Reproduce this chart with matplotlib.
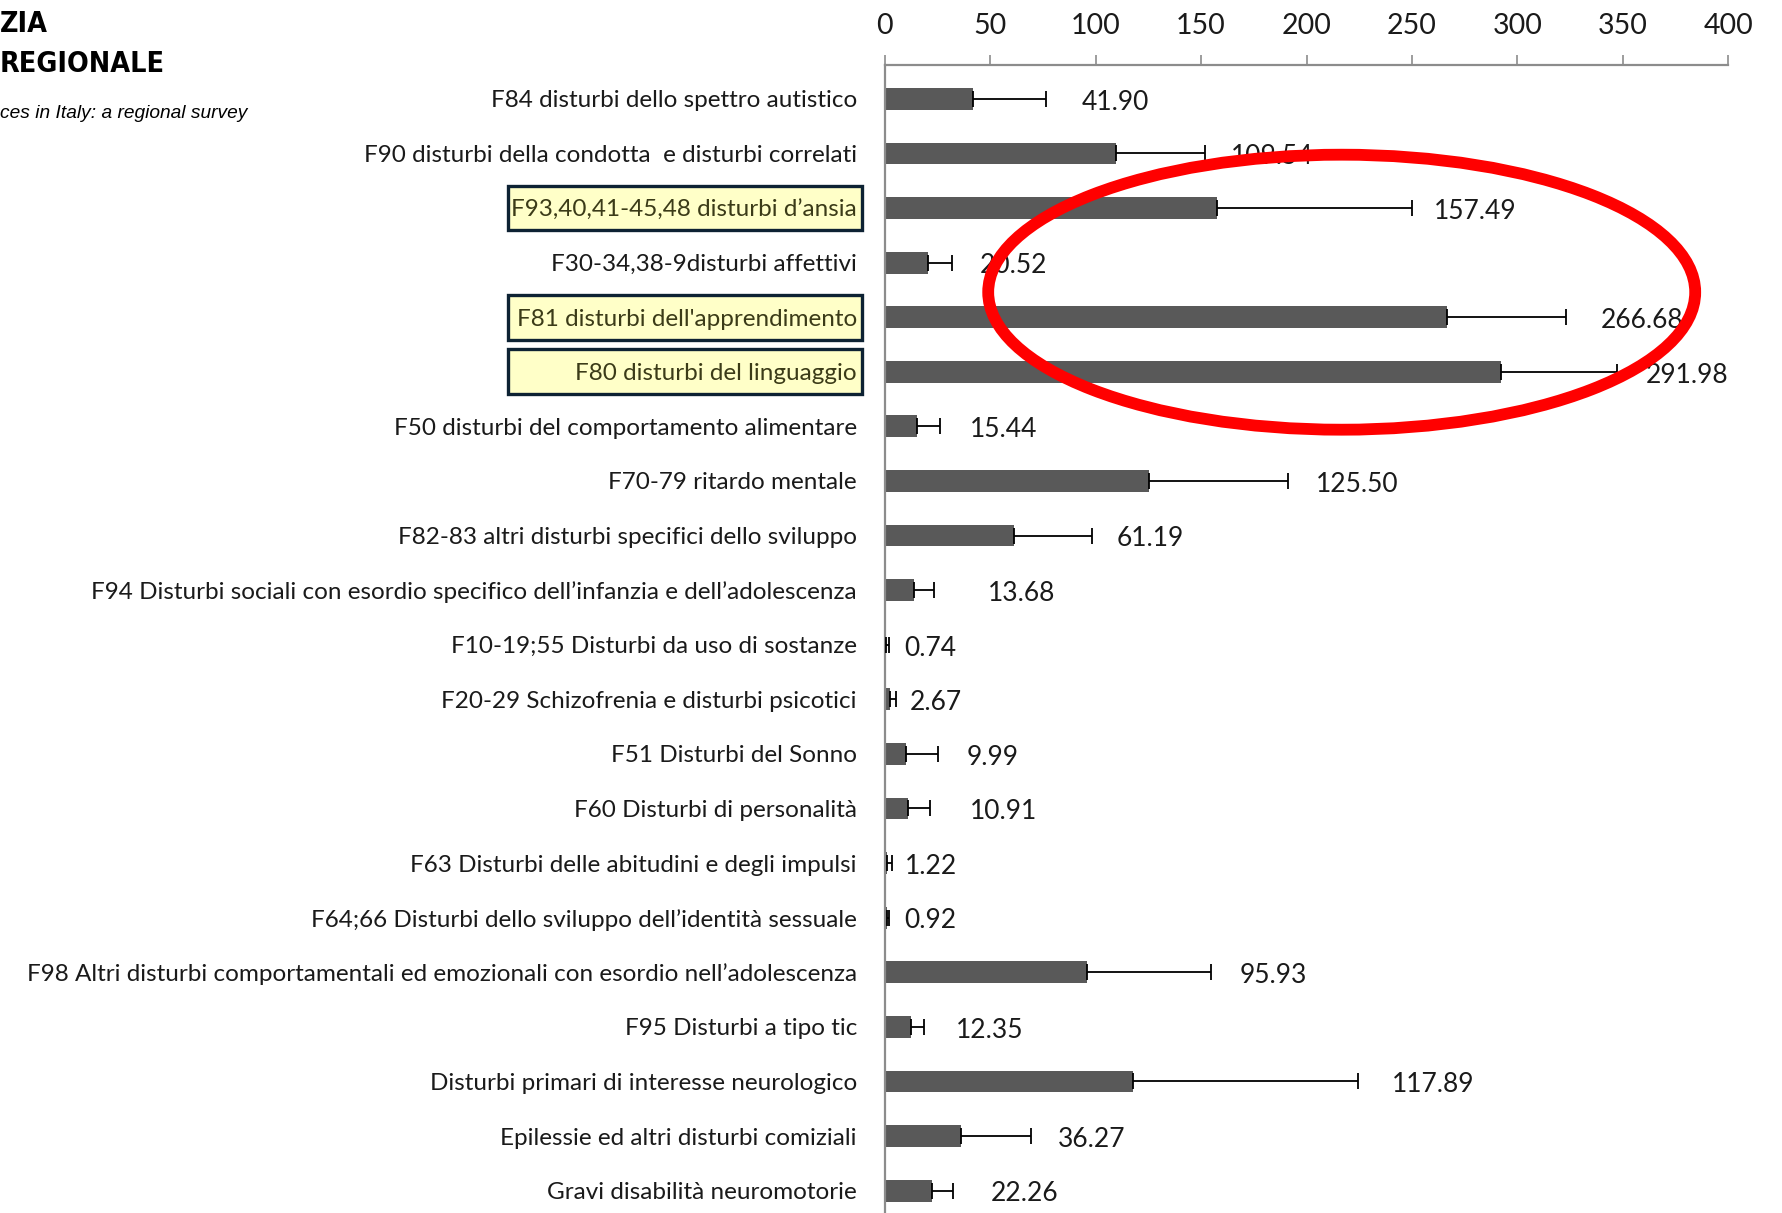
import matplotlib
matplotlib.use("Agg")
import matplotlib.pyplot as plt
import matplotlib.transforms as mtransforms
from matplotlib.patches import Rectangle, Ellipse

categories = [
    "F84 disturbi dello spettro autistico",
    "F90 disturbi della condotta  e disturbi correlati",
    "F93,40,41-45,48 disturbi d\u2019ansia",
    "F30-34,38-9disturbi affettivi",
    "F81 disturbi dell'apprendimento",
    "F80 disturbi del linguaggio",
    "F50 disturbi del comportamento alimentare",
    "F70-79 ritardo mentale",
    "F82-83 altri disturbi specifici dello sviluppo",
    "F94 Disturbi sociali con esordio specifico dell\u2019infanzia e dell\u2019adolescenza",
    "F10-19;55 Disturbi da uso di sostanze",
    "F20-29 Schizofrenia e disturbi psicotici",
    "F51 Disturbi del Sonno",
    "F60 Disturbi di personalit\u00e0",
    "F63 Disturbi delle abitudini e degli impulsi",
    "F64;66 Disturbi dello sviluppo dell\u2019identit\u00e0 sessuale",
    "F98 Altri disturbi comportamentali ed emozionali con esordio nell\u2019adolescenza",
    "F95 Disturbi a tipo tic",
    "Disturbi primari di interesse neurologico",
    "Epilessie ed altri disturbi comiziali",
    "Gravi disabilit\u00e0 neuromotorie",
]
values = [41.90, 109.54, 157.49, 20.52, 266.68, 291.98, 15.44, 125.50, 61.19, 13.68,
          0.74, 2.67, 9.99, 10.91, 1.22, 0.92, 95.93, 12.35, 117.89, 36.27, 22.26]
errors = [34.8, 42.4, 92.3, 11.6, 56.4, 55.1, 11.0, 65.8, 37.0, 9.7,
          1.4, 2.7, 15.5, 10.4, 2.4, 1.2, 58.8, 6.4, 106.4, 33.3, 10.1]
highlighted = ["F93,40,41-45,48 disturbi d\u2019ansia",
               "F81 disturbi dell'apprendimento",
               "F80 disturbi del linguaggio"]
x_ticks = [0, 50, 100, 150, 200, 250, 300, 350, 400]
label_gap = [16.6, 12, 10.6, 13, 16.5, 13.5, 14, 13, 12, 25.7,
             7, 6.4, 13.3, 19.2, 6, 7, 13.7, 15, 16, 12.4, 17.7]

FONT = "Lato"
plt.rcParams["font.family"] = [FONT, "DejaVu Sans"]

W, H = 1783, 1213
fig = plt.figure(figsize=(W / 100, H / 100), dpi=100)
ax = fig.add_axes([884.7 / W, 0.0, (1728.4 - 884.7) / W, 1 - 65.0 / H])
ax.set_facecolor("none")

n = len(categories)
ypos = list(range(n))
ax.barh(ypos, values, height=0.40, color="#595959", zorder=2)
ax.errorbar(values, ypos, xerr=[[0] * n, errors], fmt="none", ecolor="black",
            elinewidth=1.3, capsize=6, capthick=1.3, zorder=3)

for i, (v, e) in enumerate(zip(values, errors)):
    ax.text(v + e + label_gap[i], i + 0.06, f"{v:.2f}", va="center", ha="left",
            fontsize=19, color="#1a1a1a", zorder=4)

ax.set_xlim(0, 400)
ax.set_ylim(n - 1 + 0.41, -0.62)
ax.xaxis.tick_top()
ax.set_xticks(x_ticks)
ax.set_xticklabels([str(t) for t in x_ticks], fontsize=20.5, color="#1a1a1a")
ax.tick_params(axis="x", direction="out", length=7, width=1.2, color="#8c8c8c", pad=12)
ax.set_yticks(ypos)
ax.set_yticklabels(categories, fontsize=17.5, color="#1a1a1a")
ax.tick_params(axis="y", length=0, pad=20)
for sp in ["right", "bottom"]:
    ax.spines[sp].set_visible(False)
for sp in ["top", "left"]:
    ax.spines[sp].set_color("#8c8c8c")
    ax.spines[sp].set_linewidth(1.6)

for lbl in ax.get_yticklabels():
    if lbl.get_text() in highlighted:
        lbl.set_color("#3b3b18")

trans = mtransforms.blended_transform_factory(fig.transFigure, ax.transData)
for i, c in enumerate(categories):
    if c in highlighted:
        r = Rectangle((508.3 / W, i - 0.41), (862 - 508.3) / W, 0.82,
                      transform=trans, facecolor="#ffffc8", edgecolor="#0d2233",
                      linewidth=2.4, clip_on=False, zorder=-1)
        ax.add_patch(r)

# red ellipse annotation
el = Ellipse((1341.7 / W, 1 - 292.2 / H), 707 / W, 275 / H, transform=fig.transFigure,
             fill=False, edgecolor="#ff0000", linewidth=8.5, zorder=10)
fig.add_artist(el)

# header fragments at top-left
head_family = ["DejaVu Sans"]
fig.text(0.0, 1 - 24 / H, "ZIA", fontsize=20.5, fontweight="bold", fontstretch="condensed",
         family=head_family, va="center", ha="left")
fig.text(0.0, 1 - 64 / H, "REGIONALE", fontsize=20.5, fontweight="bold", fontstretch="condensed",
         family=head_family, va="center", ha="left")
fig.text(0.0, 1 - 113 / H, "ces in Italy: a regional survey", fontsize=13.8, style="italic",
         family=["Liberation Sans", "DejaVu Sans"], va="center", ha="left")

fig.savefig("out.png", dpi=100)
